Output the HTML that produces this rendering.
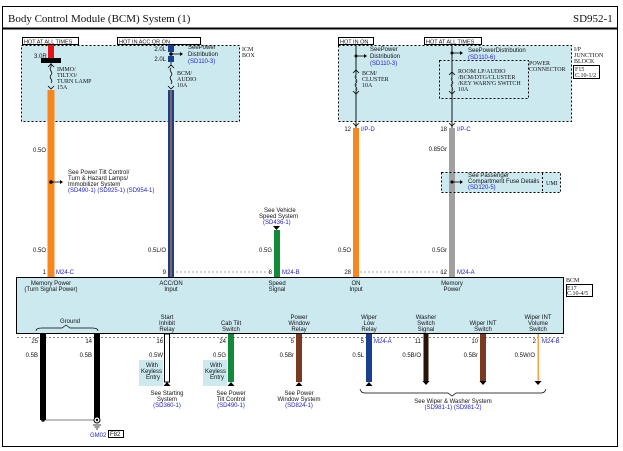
<!DOCTYPE html>
<html><head><meta charset="utf-8"><style>
html,body{margin:0;padding:0;background:#fff}
svg{display:block}
text{font-family:"Liberation Sans",sans-serif;font-size:6px;fill:#111}
.s{font-family:"Liberation Serif",serif}
.b{fill:#2222cc}
.e{text-anchor:end}
</style></head><body>
<svg width="623" height="451" viewBox="0 0 623 451" xmlns="http://www.w3.org/2000/svg">
<rect x="2.5" y="6.5" width="615" height="440" fill="#fff" stroke="#000" stroke-width="1"/>
<text x="8" y="22" class="s" style="font-size:11px">Body Control Module (BCM) System (1)</text>
<text x="573" y="22" class="s" style="font-size:11px">SD952-1</text>
<line x1="3" y1="28.5" x2="617" y2="28.5" stroke="#000" stroke-width="2"/>

<!-- ICM box -->
<rect x="21.5" y="45.5" width="218" height="76" fill="#cde9f0" stroke="#000" stroke-dasharray="2,2"/>
<text x="242" y="51" class="s">ICM</text><text x="242" y="57" class="s">BOX</text>
<rect x="22.5" y="37.5" width="56" height="7" fill="#fff" stroke="#000"/>
<text x="24" y="43.5" style="font-size:5.5px">HOT AT ALL TIMES</text>
<rect x="117.5" y="37.5" width="83" height="7" fill="#fff" stroke="#000"/>
<text x="119" y="43.5" style="font-size:5.5px">HOT IN ACC OR ON</text>

<!-- orange wire left -->
<rect x="48" y="45" width="6" height="13" fill="#e8111a"/>
<rect x="41" y="58" width="20" height="5" fill="#000"/>
<text x="34" y="58">3.0R</text>
<path d="M51 63v4M48 67l3-3 3 3M51 67c-3 3 3 5 0 8s3 5 0 8M48 86l3 3 3-3" stroke="#000" fill="none" stroke-width="0.8"/>
<text x="57" y="71" class="s">IMMO/</text><text x="57" y="77" class="s">TILT/O/</text><text x="57" y="83" class="s">TURN LAMP</text><text x="57" y="89" class="s">15A</text>
<rect x="47.5" y="90" width="7" height="192" fill="#f7861e"/>
<text x="33" y="152">0.5O</text>
<circle cx="51" cy="182" r="1.8" fill="#000"/>
<path d="M51 182h9" stroke="#000" stroke-width="0.8"/><path d="M60 180l3 2-3 2z"/>
<text x="68" y="174">See Power Tilt Control/</text><text x="68" y="180">Turn &amp; Hazard Lamps/</text><text x="68" y="186">Immobilizer System</text>
<text x="68" y="192" class="b">(SD490-1) (SD925-1) (SD954-1)</text>
<text x="33" y="252">0.5O</text>
<text x="46" y="274" class="e">1</text><text x="56" y="274" class="b">M24-C</text>

<!-- blue wire -->
<rect x="168" y="45" width="6" height="7" fill="#1a3f8e"/>
<rect x="168" y="56" width="6" height="6" fill="#1a3f8e"/>
<circle cx="171" cy="54" r="1.8" fill="#000"/>
<path d="M171 54h9" stroke="#000" stroke-width="0.8"/><path d="M180 52l3 2-3 2z"/>
<text x="166" y="51" class="e">2.0L</text><text x="166" y="61" class="e">2.0L</text>
<text x="188" y="49">SeePower</text><text x="188" y="56">Distribution</text><text x="188" y="63" class="b">(SD110-3)</text>
<path d="M171 62v4M168 68l3-3 3 3M171 68c-3 3 3 5 0 8s3 5 0 8M168 86l3 3 3-3" stroke="#000" fill="none" stroke-width="0.8"/>
<text x="177" y="75" class="s">BCM/</text><text x="177" y="81" class="s">AUDIO</text><text x="177" y="87" class="s">10A</text>
<rect x="168" y="90" width="6" height="192" fill="#1a3f8e"/>
<rect x="170.5" y="90" width="1" height="192" fill="#f7861e"/>
<text x="166" y="252" class="e">0.5L/O</text>
<text x="166" y="274" class="e">9</text>
<path d="M176 272H270" stroke="#888" stroke-dasharray="2,2" stroke-width="0.7"/>

<!-- green -->
<text x="264" y="212">See Vehicle</text><text x="259" y="218">Speed System</text><text x="263" y="224" class="b">(SD436-1)</text>
<path d="M273 226h7l-3.5 4z"/>
<rect x="274" y="230" width="6" height="52" fill="#138a3a"/>
<text x="272" y="252" class="e">0.5G</text>
<text x="272" y="274" class="e">8</text><text x="282" y="274" class="b">M24-B</text>

<!-- right JB -->
<rect x="338.5" y="45.5" width="233" height="76" fill="#cde9f0" stroke="#000" stroke-dasharray="2,2"/>
<rect x="439.5" y="60.5" width="89" height="38" fill="none" stroke="#000" stroke-dasharray="2,2"/>
<text x="574" y="51" class="s">I/P</text><text x="574" y="57" class="s">JUNCTION</text><text x="574" y="63" class="s">BLOCK</text>
<rect x="573.5" y="65.5" width="26" height="13" fill="#fff" stroke="#000"/>
<text x="575" y="71" class="s">F15</text><text x="575" y="77" class="s">C.10-1/2</text>
<text x="529" y="65" class="s">POWER</text><text x="529" y="71" class="s">CONNECTOR</text>
<rect x="338.5" y="37.5" width="35" height="7" fill="#fff" stroke="#000"/>
<text x="340" y="43.5" style="font-size:5.5px">HOT IN ON</text>
<rect x="424.5" y="37.5" width="57" height="7" fill="#fff" stroke="#000"/>
<text x="426" y="43.5" style="font-size:5.5px">HOT AT ALL TIMES</text>
<path d="M356 45v85M452 45v85" stroke="#000" stroke-width="0.9"/>
<circle cx="356" cy="56" r="1.5"/><path d="M356 56h8" stroke="#000" stroke-width="0.8"/><path d="M364 54l3 2-3 2z"/>
<text x="370" y="51">SeePower</text><text x="370" y="58">Distribution</text><text x="370" y="65" class="b">(SD110-3)</text>
<circle cx="452" cy="53" r="1.5"/><path d="M452 53h8" stroke="#000" stroke-width="0.8"/><path d="M460 51l3 2-3 2z"/>
<text x="468" y="52">SeePowerDistribution</text><text x="468" y="59" class="b">(SD110-6)</text>
<path d="M353 73l3-3 3 3M353 91l3 3 3-3M449 75l3-3 3 3M449 91l3 3 3-3M353 123l3 3 3-3M449 123l3 3 3-3" stroke="#000" fill="none" stroke-width="0.8"/>
<path d="M356 75c-3 3 3 5 0 8s3 5 0 8M452 77c-3 3 3 5 0 7s3 4 0 7" stroke="#cde9f0" stroke-width="1.6" fill="none"/>
<path d="M356 75c-3 3 3 5 0 8s3 5 0 8M452 77c-3 3 3 5 0 7s3 4 0 7" stroke="#000" stroke-width="0.8" fill="none"/>
<text x="362" y="75" class="s">BCM/</text><text x="362" y="81" class="s">CLUSTER</text><text x="362" y="87" class="s">10A</text>
<text x="458" y="73" class="s">ROOM LP/AUDIO</text><text x="458" y="79" class="s">/BCM/DTG/CLUSTER</text><text x="458" y="85" class="s">/KEY WARN'G SWITCH</text><text x="458" y="91" class="s">10A</text>
<rect x="353" y="128" width="6" height="154" fill="#f7861e"/>
<text x="351" y="131" class="e">12</text><text x="361" y="131" class="b">I/P-D</text>
<text x="351" y="252" class="e">0.5O</text>
<text x="351" y="274" class="e">28</text>
<path d="M360 272H447" stroke="#888" stroke-dasharray="2,2" stroke-width="0.7"/>
<rect x="449" y="128" width="6" height="154" fill="#a0a0a0"/>
<text x="447" y="131" class="e">18</text><text x="457" y="131" class="b">I/P-C</text>
<text x="447" y="151" class="e">0.85Gr</text>
<rect x="441.5" y="172.5" width="119" height="20" fill="#cde9f0" stroke="#000" stroke-dasharray="2,2"/>
<line x1="542.5" y1="173" x2="542.5" y2="192" stroke="#000" stroke-dasharray="2,2"/>
<text x="546" y="185" class="s">UMI</text>
<rect x="449" y="173" width="6" height="19" fill="#a0a0a0"/>
<circle cx="452" cy="182" r="1.5"/><path d="M452 182h8" stroke="#000" stroke-width="0.8"/><path d="M460 180l3 2-3 2z"/>
<text x="468" y="177">See Passenger</text><text x="468" y="183">Compartment Fuse Details</text><text x="468" y="189" class="b">(SD120-5)</text>
<text x="447" y="252" class="e">0.5Gr</text>
<text x="447" y="274" class="e">12</text><text x="457" y="274" class="b">M24-A</text>

<!-- BCM box -->
<rect x="16.5" y="277.5" width="547" height="56" fill="#cde9f0" stroke="#000"/>
<text x="566" y="282" class="s">BCM</text>
<rect x="566.5" y="284.5" width="26" height="12" fill="#fff" stroke="#000"/>
<text x="567" y="290" class="s">E17</text><text x="567" y="295" class="s">C.10-4/5</text>
<g style="text-anchor:middle">
<text x="51" y="285">Memory Power</text><text x="51" y="291">(Turn Signal Power)</text>
<text x="171" y="285">ACC/ON</text><text x="171" y="291">Input</text>
<text x="277" y="285">Speed</text><text x="277" y="291">Signal</text>
<text x="356" y="285">ON</text><text x="356" y="291">Input</text>
<text x="452" y="285">Memory</text><text x="452" y="291">Power</text>
<text x="70" y="323">Ground</text>
<text x="167" y="319">Start</text><text x="167" y="325">Inhibit</text><text x="167" y="331">Relay</text>
<text x="231" y="325">Cab Tilt</text><text x="231" y="331">Switch</text>
<text x="299" y="319">Power</text><text x="299" y="325">Window</text><text x="299" y="331">Relay</text>
<text x="369" y="319">Wiper</text><text x="369" y="325">Low</text><text x="369" y="331">Relay</text>
<text x="426" y="319">Washer</text><text x="426" y="325">Switch</text><text x="426" y="331">Signal</text>
<text x="483" y="325">Wiper INT</text><text x="483" y="331">Switch</text>
<text x="538" y="319">Wiper INT</text><text x="538" y="325">Volume</text><text x="538" y="331">Switch</text>
</g>
<path d="M36 331q0-3 6-3h20l4-3 4 3h22q6 0 6 3" stroke="#000" fill="none" stroke-width="0.7"/>
<path d="M17 337.5H563" stroke="#555" stroke-dasharray="2,2" stroke-width="0.7"/>

<!-- bottom wires -->
<rect x="40" y="334" width="6" height="86" fill="#000"/>
<rect x="94" y="334" width="6" height="86" fill="#000"/>
<text x="38" y="343" class="e">25</text><text x="92" y="343" class="e">14</text>
<text x="38" y="357" class="e">0.5B</text><text x="92" y="357" class="e">0.5B</text>
<circle cx="43" cy="420" r="1.8"/><path d="M43 420H97" stroke="#000" stroke-width="0.6"/>
<circle cx="97" cy="420" r="3" fill="#fff" stroke="#000"/><circle cx="97" cy="420" r="1.2"/>
<path d="M93 425h8M94.5 427h5M96 429h2" stroke="#000" stroke-width="0.7"/>
<text x="90" y="437" class="b">GM02</text>
<rect x="108.5" y="430.5" width="15" height="7" fill="#fff" stroke="#000"/>
<text x="110" y="436">F82</text>

<rect x="139" y="360" width="24" height="26" fill="#cde9f0"/>
<text x="158" y="367" class="e">With</text><text x="162" y="373" class="e">Keyless</text><text x="160" y="379" class="e">Entry</text>
<rect x="203" y="360" width="24" height="26" fill="#cde9f0"/>
<text x="222" y="367" class="e">With</text><text x="226" y="373" class="e">Keyless</text><text x="224" y="379" class="e">Entry</text>
<rect x="164.5" y="334" width="5" height="48" fill="#fff" stroke="#000"/>
<rect x="228" y="334" width="6" height="48" fill="#138a3a"/>
<rect x="296" y="334" width="6" height="48" fill="#7a3a22"/>
<rect x="366" y="334" width="6" height="48" fill="#1a3f8e"/>
<rect x="423.5" y="334" width="5" height="47" fill="#2a1408"/>
<rect x="480" y="334" width="6" height="47" fill="#7a3a22"/>
<rect x="537.5" y="334" width="1.5" height="48" fill="#f7a040"/>
<path d="M163.5 386h7l-3.5-4zM227.5 386h7l-3.5-4zM295.5 386h7l-3.5-4zM365.5 386h7l-3.5-4zM422.5 381h7l-3.5 4zM479.5 381h7l-3.5 4zM534.5 381h7l-3.5 4z"/>
<text x="163" y="343" class="e">16</text><text x="226" y="343" class="e">24</text><text x="294" y="343" class="e">5</text>
<text x="364" y="343" class="e">5</text><text x="374" y="343" class="b">M24-A</text>
<text x="421" y="343" class="e">11</text><text x="478" y="343" class="e">10</text>
<text x="536" y="343" class="e">2</text><text x="542" y="343" class="b">M24-B</text>
<text x="163" y="357" class="e">0.5W</text><text x="226" y="357" class="e">0.5G</text><text x="294" y="357" class="e">0.5Br</text>
<text x="364" y="357" class="e">0.5L</text><text x="421" y="357" class="e">0.5B/O</text><text x="478" y="357" class="e">0.5Br</text><text x="535" y="357" class="e">0.5W/O</text>
<g style="text-anchor:middle">
<text x="167" y="395">See Starting</text><text x="167" y="401">System</text><text x="167" y="407" class="b">(SD360-1)</text>
<text x="231" y="395">See Power</text><text x="231" y="401">Tilt Control</text><text x="231" y="407" class="b">(SD490-1)</text>
<text x="299" y="395">See Power</text><text x="299" y="401">Window System</text><text x="299" y="407" class="b">(SD824-1)</text>
<text x="453" y="403">See Wiper &amp; Washer System</text><text x="453" y="409" class="b">(SD981-1) (SD981-2)</text>
</g>
<path d="M360 389q1 4 5 4h83l4 3 4-3h85q4 0 5-4" stroke="#000" fill="none" stroke-width="0.7"/>
</svg>
</body></html>
